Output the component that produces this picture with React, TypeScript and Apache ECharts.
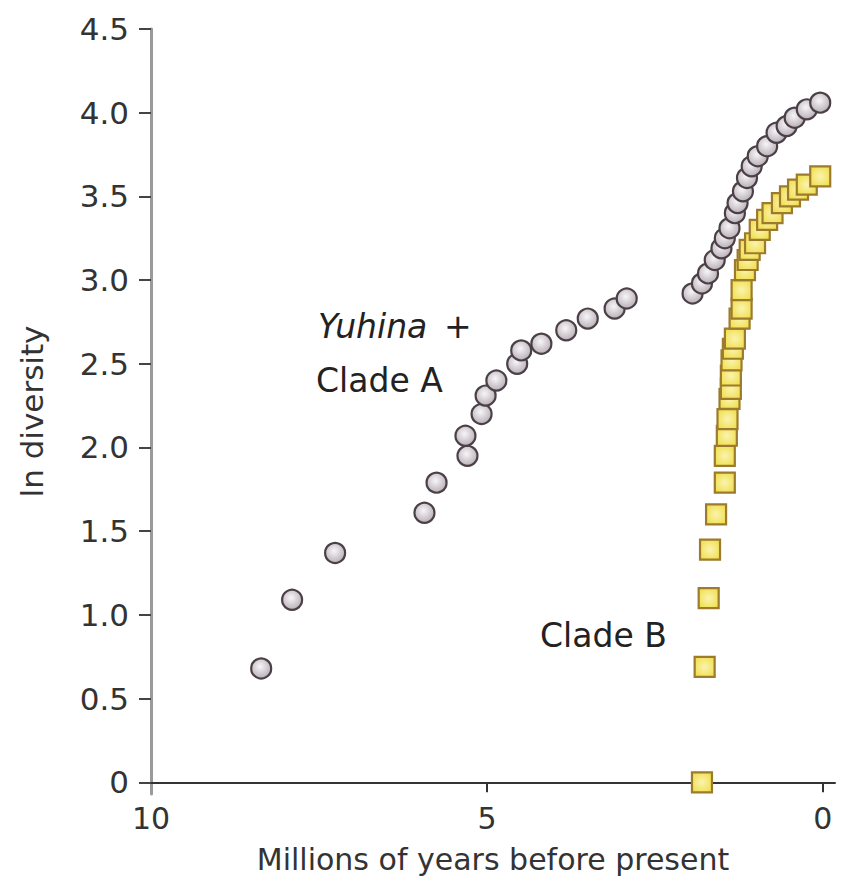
import React, { useEffect, useRef } from "react";
import * as echarts from "echarts";

// Millions of years before present (x) and ln diversity (y)
const cladeAYears = [8.36, 7.9, 7.26, 5.93, 5.75, 5.29, 5.32, 5.08, 5.02, 4.86, 4.55, 4.49, 4.19, 3.82, 3.5, 3.1, 2.92,
  1.94, 1.8, 1.71, 1.61, 1.51, 1.46, 1.39, 1.31, 1.27, 1.19, 1.13, 1.06, 0.97, 0.83, 0.69, 0.54, 0.42, 0.24, 0.04];
const cladeADiversity = [0.68, 1.09, 1.37, 1.61, 1.79, 1.95, 2.07, 2.2, 2.31, 2.4, 2.5, 2.58, 2.62, 2.7, 2.77, 2.83, 2.89,
  2.92, 2.98, 3.04, 3.12, 3.19, 3.25, 3.31, 3.4, 3.46, 3.53, 3.61, 3.68, 3.74, 3.8, 3.88, 3.92, 3.97, 4.02, 4.06];

const cladeBYears = [1.8, 1.76, 1.7, 1.68, 1.59, 1.46, 1.46, 1.43, 1.42, 1.39, 1.37, 1.37, 1.36, 1.34, 1.31, 1.24, 1.21,
  1.21, 1.16, 1.12, 1.09, 1.01, 0.94, 0.83, 0.75, 0.61, 0.49, 0.37, 0.24, 0.04];
const cladeBDiversity = [0.0, 0.69, 1.1, 1.39, 1.6, 1.79, 1.95, 2.07, 2.17, 2.29, 2.35, 2.43, 2.52, 2.59, 2.65, 2.77, 2.83,
  2.94, 3.06, 3.12, 3.18, 3.22, 3.3, 3.36, 3.4, 3.46, 3.5, 3.54, 3.57, 3.62];

const xTicks = [0, 5, 10];
const yTicks = [0, 0.5, 1, 1.5, 2, 2.5, 3, 3.5, 4, 4.5];

const FONT = "DejaVu Sans";

export default function App() {
  const ref = useRef<HTMLDivElement>(null);
  useEffect(() => {
    if (!ref.current) return;
    const chart = echarts.init(ref.current, null, { renderer: "svg" });
    const circleFill = new echarts.graphic.RadialGradient(0.45, 0.4, 0.6, [
      { offset: 0, color: "#f7f5f7" },
      { offset: 1, color: "#b9b0b9" },
    ]);
    const squareFill = new echarts.graphic.RadialGradient(0.5, 0.5, 0.7, [
      { offset: 0, color: "#fbf3b0" },
      { offset: 1, color: "#eedc3c" },
    ]);
    chart.setOption({
      animation: false,
      backgroundColor: "#ffffff",
      grid: { left: 151, right: 7, top: 29, bottom: 90, containLabel: false },
      xAxis: {
        type: "value",
        inverse: true,
        min: -0.18,
        max: 10,
        name: "Millions of years before present",
        nameLocation: "middle",
        nameGap: 50,
        nameTextStyle: { fontFamily: FONT, fontSize: 30, color: "#333" },
        axisLine: { onZero: true, lineStyle: { color: "#333", width: 2 } },
        axisTick: { show: true, customValues: [0, 5], length: 10, inside: false, lineStyle: { color: "#333", width: 2 } },
        axisLabel: {
          customValues: xTicks,
          margin: 9,
          fontFamily: FONT,
          fontSize: 30,
          color: "#333",
          formatter: (v: number) => String(v),
        },
        splitLine: { show: false },
      },
      yAxis: {
        type: "value",
        min: -0.07,
        max: 4.5,
        name: "ln diversity",
        nameLocation: "middle",
        nameGap: 104,
        nameRotate: 90,
        nameTextStyle: { fontFamily: FONT, fontSize: 31, color: "#333" },
        axisLine: { show: true, onZero: false, lineStyle: { color: "#9a9a9a", width: 3 } },
        axisTick: { show: true, customValues: yTicks, length: 12, lineStyle: { color: "#444", width: 2 } },
        axisLabel: {
          customValues: yTicks,
          margin: 22,
          fontFamily: FONT,
          fontSize: 31,
          color: "#333",
          formatter: (v: number) => (v === 0 ? "0" : v.toFixed(1)),
        },
        splitLine: { show: false },
      },
      series: [
        {
          name: "Yuhina + Clade A",
          type: "scatter",
          symbol: "circle",
          symbolSize: 20,
          data: cladeAYears.map((x, i) => [x, cladeADiversity[i]]),
          itemStyle: { color: circleFill, borderColor: "#4a4045", borderWidth: 2.2, opacity: 1 },
        },
        {
          name: "Clade B",
          type: "scatter",
          symbol: "rect",
          symbolSize: 20,
          data: cladeBYears.map((x, i) => [x, cladeBDiversity[i]]),
          itemStyle: { color: squareFill, borderColor: "#9c7b2e", borderWidth: 2.2, opacity: 1 },
        },
      ],
      graphic: [
        {
          type: "text",
          left: 318,
          top: 310,
          style: { text: "Yuhina", fontFamily: FONT, fontStyle: "italic", fontSize: 33, fill: "#222" },
        },
        {
          type: "text",
          left: 444,
          top: 310,
          style: { text: "+", fontFamily: FONT, fontSize: 33, fill: "#222" },
        },
        {
          type: "text",
          left: 316,
          top: 364,
          style: { text: "Clade A", fontFamily: FONT, fontSize: 33, fill: "#222" },
        },
        {
          type: "text",
          left: 540,
          top: 619,
          style: { text: "Clade B", fontFamily: FONT, fontSize: 33, fill: "#222" },
        },
      ],
    });
    return () => chart.dispose();
  }, []);
  return <div ref={ref} style={{ position: "fixed", left: 0, top: 0, width: 842, height: 884 }} />;
}
